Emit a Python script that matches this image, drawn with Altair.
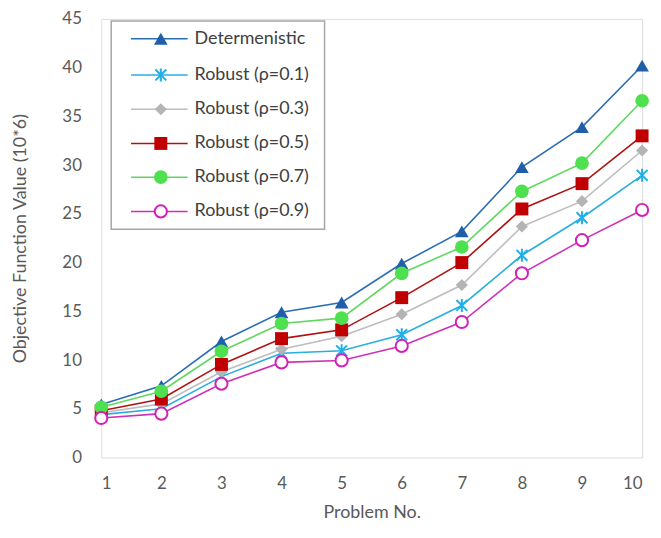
import altair as alt
import pandas as pd

problems = [1, 2, 3, 4, 5, 6, 7, 8, 9, 10]
series_names = ["Determenistic", "Robust (ρ=0.1)", "Robust (ρ=0.3)",
                "Robust (ρ=0.5)", "Robust (ρ=0.7)", "Robust (ρ=0.9)"]
det = [5.45, 7.35, 11.9, 14.9, 15.9, 19.9, 23.2, 29.8, 33.9, 40.2]
rho01 = [4.4, 5.0, 8.3, 10.7, 10.95, 12.6, 15.6, 20.75, 24.6, 28.95]
rho03 = [4.6, 5.5, 8.8, 11.1, 12.45, 14.7, 17.7, 23.7, 26.3, 31.5]
rho05 = [4.8, 6.0, 9.55, 12.2, 13.1, 16.4, 20.0, 25.5, 28.1, 33.0]
rho07 = [5.15, 6.8, 10.9, 13.75, 14.3, 18.9, 21.6, 27.3, 30.2, 36.6]
rho09 = [4.05, 4.5, 7.57, 9.76, 9.96, 11.45, 13.9, 18.9, 22.3, 25.4]
values = [det, rho01, rho03, rho05, rho07, rho09]

colors = ["#1F5FAA", "#1EB0E8", "#B4B4B4", "#C00000", "#4EE04E", "#D21FB8"]
line_colors = ["#2A6DB5", "#2AAEE0", "#BDBDBD", "#B01010", "#5ED85E", "#D030B8"]
ASTER = "M-1,-1L1,1M-1,1L1,-1M0,-1.2L0,1.2"
shapes = ["triangle-up", ASTER, "diamond", "square", "circle", "circle"]
sizes = [190, 120, 150, 170, 190, 150]
fills = [True, False, True, True, True, False]

FONT = "Lato"
TXT = "#595959"
FRAME = "#A6A6A6"
W, H = 545, 442

layers = []
for name, vals, c, lc, shp, sz, f in zip(series_names, values, colors, line_colors, shapes, sizes, fills):
    df = pd.DataFrame({"problem": problems, "value": vals, "series": name})
    base = alt.Chart(df).encode(
        x=alt.X("problem:Q",
                scale=alt.Scale(domain=[1, 10], nice=False),
                axis=alt.Axis(values=problems, title="Problem No.", grid=False, ticks=False,
                              domain=False, labelPadding=18, titlePadding=12,
                              labelFontSize=17, titleFontSize=18, labelColor=TXT,
                              titleColor=TXT, labelFont=FONT, titleFont=FONT,
                              titleFontWeight="normal")),
        y=alt.Y("value:Q",
                scale=alt.Scale(domain=[0, 45], nice=False),
                axis=alt.Axis(values=list(range(0, 46, 5)), title="Objective Function Value (10*6)",
                              grid=False, ticks=False, domain=False, labelPadding=20,
                              titlePadding=33, labelFontSize=17, titleFontSize=18,
                              labelColor=TXT, titleColor=TXT, labelFont=FONT, titleFont=FONT,
                              titleFontWeight="normal")),
    )
    layers.append(base.mark_line(color=lc, strokeWidth=1.6))
    if shp == ASTER:
        pt = base.mark_point(shape=shp, size=sz, color=c, filled=False, strokeWidth=2, opacity=1)
    elif f:
        pt = base.mark_point(shape=shp, size=sz, color=c, filled=True, opacity=1)
    else:
        pt = base.mark_point(shape=shp, size=sz, stroke=c, fill="white", filled=True,
                             strokeWidth=2, opacity=1)
    layers.append(pt)

# legend box
leg_df = pd.DataFrame({"k": [1]})
layers.append(alt.Chart(leg_df).mark_rect(fill="white", stroke=FRAME, strokeWidth=1.5).encode(
    x=alt.value(10), x2=alt.value(225), y=alt.value(2), y2=alt.value(212)))

leg_y = [20, 56.5, 91, 125.5, 159.5, 194]
for name, c, lc, shp, sz, f, yy in zip(series_names, colors, line_colors, shapes, sizes, fills, leg_y):
    d = pd.DataFrame({"label": [name]})
    bc = alt.Chart(d)
    layers.append(bc.mark_rule(color=lc, strokeWidth=1.6).encode(
        x=alt.value(30), x2=alt.value(87), y=alt.value(yy)))
    if shp == ASTER:
        pm = bc.mark_point(shape=shp, size=sz, color=c, filled=False, strokeWidth=2, opacity=1)
    elif f:
        pm = bc.mark_point(shape=shp, size=sz, color=c, filled=True, opacity=1)
    else:
        pm = bc.mark_point(shape=shp, size=sz, stroke=c, fill="white", filled=True,
                           strokeWidth=2, opacity=1)
    layers.append(pm.encode(x=alt.value(60), y=alt.value(yy)))
    layers.append(bc.mark_text(align="left", baseline="middle", font=FONT, fontSize=18,
                               color="#404040").encode(
        x=alt.value(94), y=alt.value(yy), text="label:N"))

chart = alt.layer(*layers).properties(
    width=W, height=H,
    padding={"left": 3, "top": 0, "right": 0, "bottom": 0},
).configure_view(stroke=FRAME, strokeWidth=2).configure(background="white")

chart.save("out.html", embed_options={"renderer": "svg", "actions": False})
